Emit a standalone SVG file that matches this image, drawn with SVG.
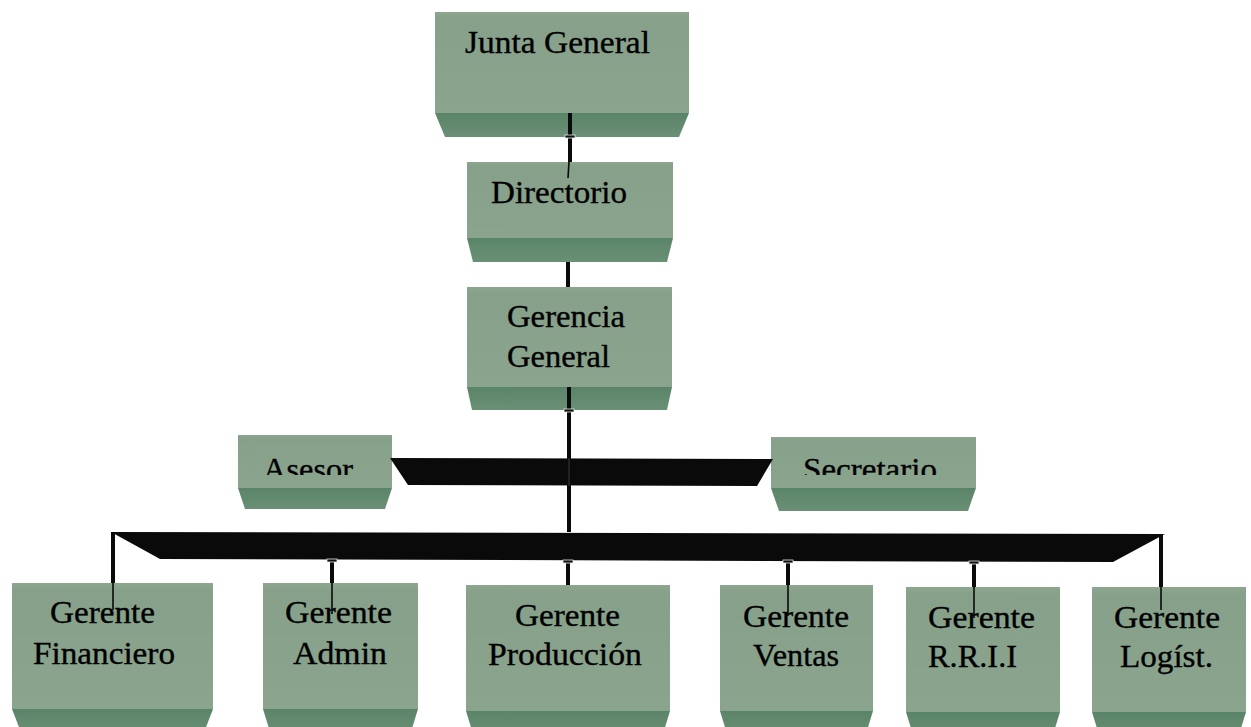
<svg xmlns="http://www.w3.org/2000/svg" width="1251" height="727" viewBox="0 0 1251 727">
<defs>
<linearGradient id="gFront" x1="0" y1="0" x2="0" y2="1">
<stop offset="0" stop-color="#8ea690"/>
<stop offset="0.06" stop-color="#86a08a"/>
<stop offset="1" stop-color="#8aa48e"/>
</linearGradient>
<linearGradient id="gBevel" x1="0" y1="0" x2="0" y2="1">
<stop offset="0" stop-color="#5a8468"/>
<stop offset="1" stop-color="#6a9076"/>
</linearGradient>
<clipPath id="clipMid"><rect x="0" y="0" width="1251" height="475"/></clipPath>
</defs>
<style>
.front{fill:url(#gFront);}
.bevel{fill:url(#gBevel);}
.t{font-family:"Liberation Serif","Times New Roman",serif;font-size:32px;fill:#000;stroke:#000;stroke-width:0.35;}
.thick{stroke:#0a0a0a;stroke-width:4;fill:none;}
.thin{stroke:#0a0a0a;stroke-width:1.6;fill:none;}
.bar{fill:#0a0a0a;}
.cap{fill:#111;stroke:#e8e8e8;stroke-width:0.8;}
</style>
<rect width="1251" height="727" fill="#ffffff"/>

<g id="junta">
<rect class="front" x="435" y="12" width="254" height="101"/>
<polygon class="bevel" points="435,113 689,113 679,137 445,137"/>
<text class="t" x="465" y="53" textLength="185" lengthAdjust="spacingAndGlyphs">Junta General</text>
</g>
<g id="directorio">
<rect class="front" x="467" y="162" width="206" height="76"/>
<polygon class="bevel" points="467,238 673,238 667,262 473,262"/>
<text class="t" x="491" y="203" textLength="136" lengthAdjust="spacingAndGlyphs">Directorio</text>
</g>
<g id="gerencia">
<rect class="front" x="467" y="287" width="205" height="100"/>
<polygon class="bevel" points="467,387 672,387 667,410 472,410"/>
<text class="t" x="507" y="327" textLength="118" lengthAdjust="spacingAndGlyphs">Gerencia</text>
<text class="t" x="507" y="367" textLength="103" lengthAdjust="spacingAndGlyphs">General</text>
</g>
<g id="asesor">
<rect class="front" x="238" y="435" width="154" height="53"/>
<polygon class="bevel" points="238,488 392,488 385,509 245,509"/>
<text class="t" x="263" y="480" textLength="90" lengthAdjust="spacingAndGlyphs" clip-path="url(#clipMid)">Asesor</text>
</g>
<g id="secretario">
<rect class="front" x="771" y="437" width="205" height="51"/>
<polygon class="bevel" points="771,488 976,488 968,511 779,511"/>
<text class="t" x="803" y="480" textLength="134" lengthAdjust="spacingAndGlyphs" clip-path="url(#clipMid)">Secretario</text>
</g>

<g id="financiero">
<rect class="front" x="12" y="583" width="201" height="126"/>
<polygon class="bevel" points="12,709 213,709 203,735 22,735"/>
<text class="t" x="50" y="623" textLength="105" lengthAdjust="spacingAndGlyphs">Gerente</text>
<text class="t" x="33" y="664" textLength="142" lengthAdjust="spacingAndGlyphs">Financiero</text>
</g>
<g id="admin">
<rect class="front" x="263" y="583" width="155" height="126"/>
<polygon class="bevel" points="263,709 418,709 410,735 271,735"/>
<text class="t" x="285" y="623" textLength="107" lengthAdjust="spacingAndGlyphs">Gerente</text>
<text class="t" x="293" y="664" textLength="94" lengthAdjust="spacingAndGlyphs">Admin</text>
</g>
<g id="produccion">
<rect class="front" x="466" y="585" width="204" height="126"/>
<polygon class="bevel" points="466,711 670,711 662,737 474,737"/>
<text class="t" x="515" y="626" textLength="105" lengthAdjust="spacingAndGlyphs">Gerente</text>
<text class="t" x="488" y="665" textLength="154" lengthAdjust="spacingAndGlyphs">Producción</text>
</g>
<g id="ventas">
<rect class="front" x="720" y="585" width="153" height="126"/>
<polygon class="bevel" points="720,711 873,711 865,737 728,737"/>
<text class="t" x="743" y="627" textLength="106" lengthAdjust="spacingAndGlyphs">Gerente</text>
<text class="t" x="753" y="666" textLength="86" lengthAdjust="spacingAndGlyphs">Ventas</text>
</g>
<g id="rrii">
<rect class="front" x="906" y="587" width="154" height="125"/>
<polygon class="bevel" points="906,712 1060,712 1052,738 914,738"/>
<text class="t" x="928" y="628" textLength="107" lengthAdjust="spacingAndGlyphs">Gerente</text>
<text class="t" x="928" y="667" textLength="89" lengthAdjust="spacingAndGlyphs">R.R.I.I</text>
</g>
<g id="logistica">
<rect class="front" x="1092" y="587" width="154" height="125"/>
<polygon class="bevel" points="1092,712 1246,712 1238,738 1100,738"/>
<text class="t" x="1114" y="628" textLength="106" lengthAdjust="spacingAndGlyphs">Gerente</text>
<text class="t" x="1120" y="667" textLength="93" lengthAdjust="spacingAndGlyphs">Logíst.</text>
</g>

<g id="connectors">
<line class="thick" x1="570" y1="113" x2="570" y2="162"/>
<rect class="cap" x="565" y="135" width="10" height="3"/>
<line class="thin" x1="569" y1="162" x2="568" y2="178"/>
<line class="thick" x1="568" y1="262" x2="568" y2="287"/>
<line class="thick" x1="569" y1="387" x2="569" y2="532"/>
<rect class="cap" x="564" y="409" width="10" height="3"/>
<polygon class="bar" points="390,458 773,459 757,486 408,485"/>
<line x1="569" y1="458" x2="569" y2="486" stroke="#3a3a3a" stroke-width="1"/>
<polygon class="bar" points="111,532 1165,534 1113,562 160,559"/>
<line class="thick" x1="113" y1="532" x2="113" y2="583"/>
<line class="thin" x1="113" y1="583" x2="113" y2="610"/>
<line class="thick" x1="1161" y1="535" x2="1161" y2="587"/>
<line class="thin" x1="1161" y1="587" x2="1161" y2="610"/>
<line class="thick" x1="332" y1="560" x2="332" y2="583"/>
<rect class="cap" x="327" y="559" width="10" height="3"/>
<line class="thin" x1="332" y1="583" x2="332" y2="614"/>
<line class="thick" x1="568" y1="561" x2="568" y2="585"/>
<rect class="cap" x="563" y="560" width="10" height="3"/>
<line class="thick" x1="788" y1="561" x2="788" y2="585"/>
<rect class="cap" x="783" y="560" width="10" height="3"/>
<line class="thin" x1="788" y1="585" x2="788" y2="616"/>
<line class="thick" x1="974" y1="562" x2="974" y2="587"/>
<rect class="cap" x="969" y="561" width="10" height="3"/>
<line class="thin" x1="974" y1="587" x2="974" y2="618"/>
</g>
</svg>
